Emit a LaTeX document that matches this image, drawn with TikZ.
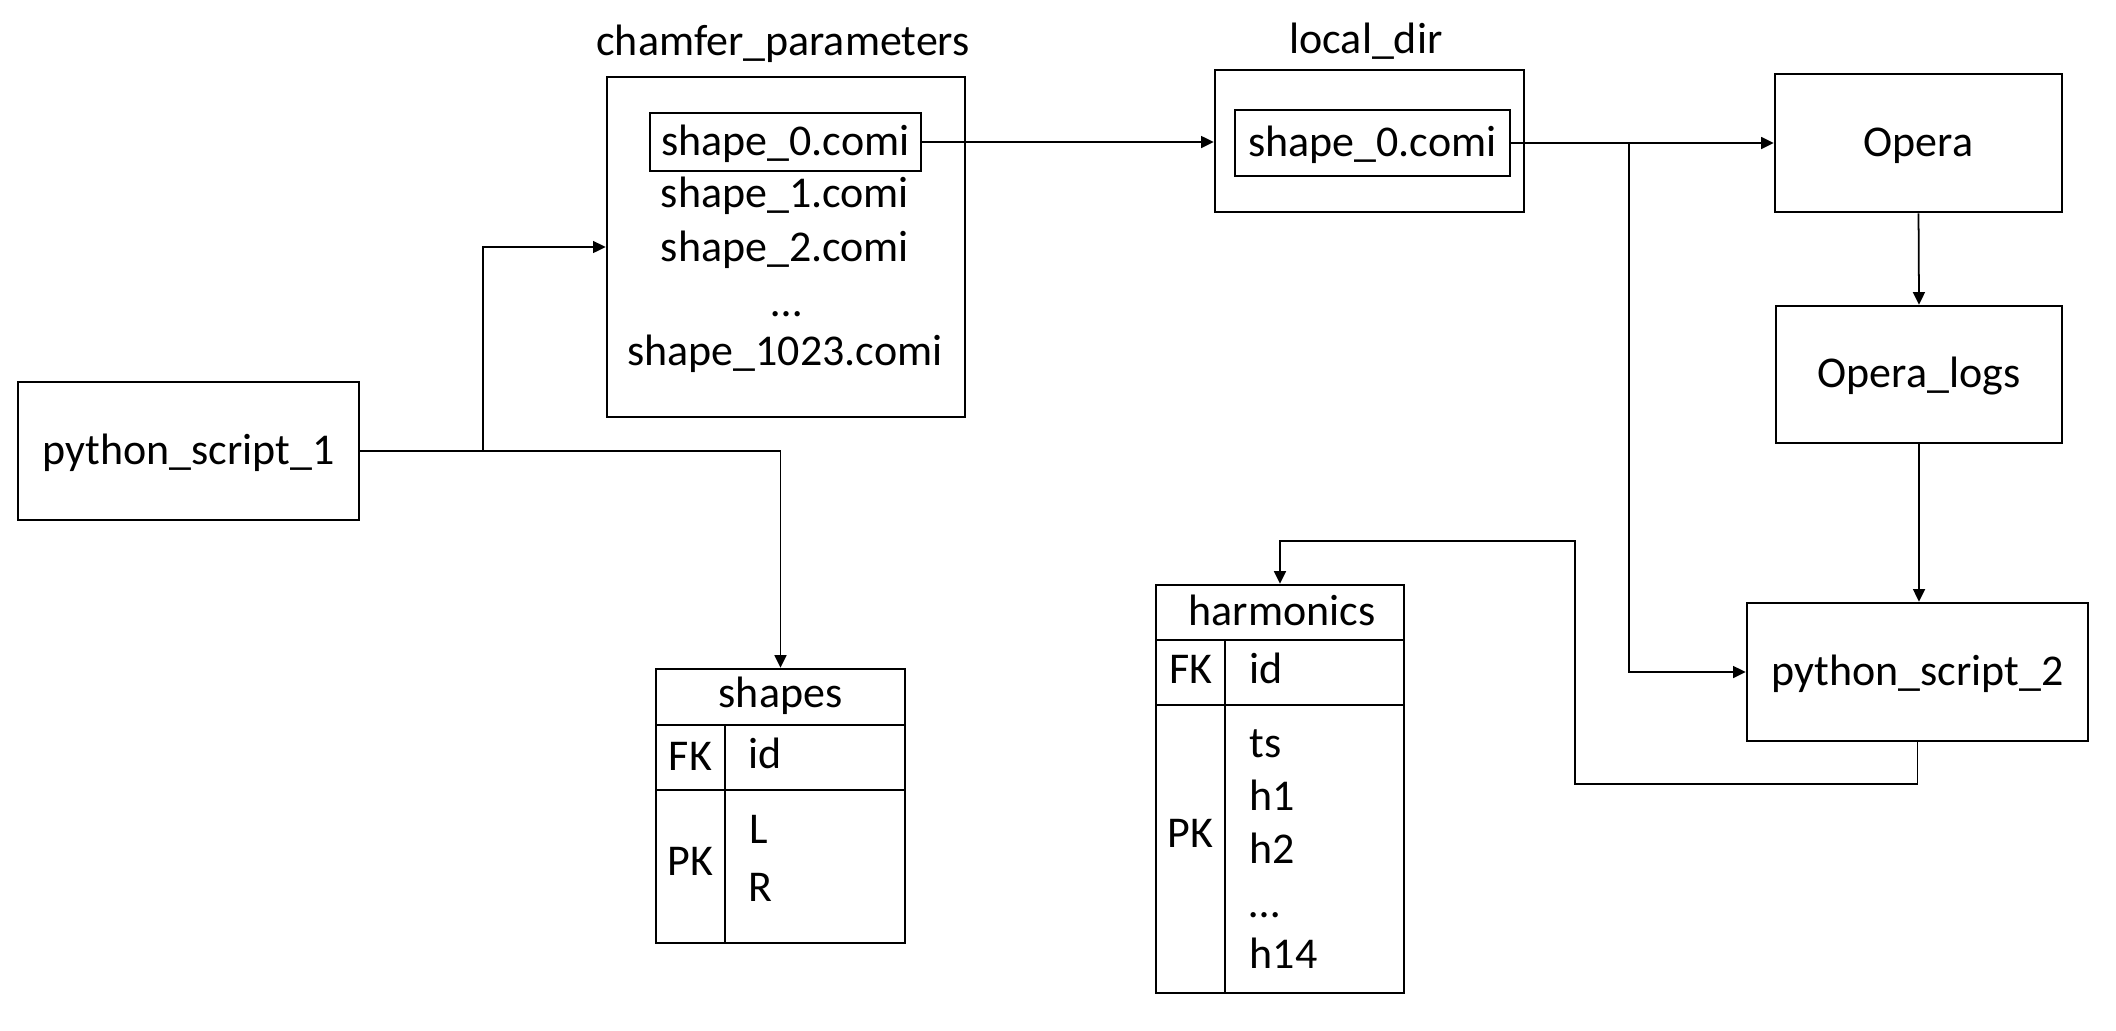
\documentclass[tikz,border=0pt]{standalone}
\usepackage{fontspec}
\setmainfont{Carlito}
\usetikzlibrary{arrows.meta}
\tikzset{%
  procbox/.style = {shape=rectangle, draw, line width=0.7pt,%
                    text height=10.5pt, text depth=3pt},%
  cell/.style    = {shape=rectangle, draw, line width=0.7pt},%
  entry/.style   = {anchor=base},%
  field/.style   = {anchor=base west},%
  flow/.style    = {line width=0.5pt, -{Triangle[length=3.6pt,width=3.4pt]}},%
  wire/.style    = {line width=0.5pt}%
}
\begin{document}
\begin{tikzpicture}[x=0.01cm, y=-0.01cm,
	every node/.style = {font=\fontsize{12.5}{15}\selectfont, inner sep=0pt}]
	\useasboundingbox[fill=white] (0,0) rectangle (2116,1030);
	% scripts and programs
	\node [procbox, minimum width=3.41cm, minimum height=1.38cm] (script1) at (188.5,451) {python\_script\_1};
	\node [procbox, minimum width=2.87cm, minimum height=1.38cm] (opera) at (1918.5,143) {Opera};
	\node [procbox, minimum width=2.86cm, minimum height=1.37cm] (logs) at (1919,374.5) {Opera\_logs};
	\node [procbox, minimum width=3.41cm, minimum height=1.38cm] (script2) at (1917.5,672) {python\_script\_2};
	% chamfer_parameters folder
	\node [cell, minimum width=3.58cm, minimum height=3.40cm] (chamfer) at (786,247) {};
	\node [entry] (chamfer_t) at (783,55) {chamfer\_parameters};
	\node [procbox, minimum width=2.71cm, minimum height=0.58cm] (ch0) at (785.5,142) {shape\_0.comi};
	\node [entry] (ch1) at (785,207) {shape\_1.comi};
	\node [entry] (ch2) at (785,261) {shape\_2.comi};
	\node [entry] (chdots) at (787,316) {…};
	\node [entry] (ch1023) at (785,365) {shape\_1023.comi};
	% local_dir folder
	\node [cell, minimum width=3.09cm, minimum height=1.42cm] (local) at (1369.5,141) {};
	\node [entry] (local_t) at (1366,53) {local\_dir};
	\node [procbox, minimum width=2.75cm, minimum height=0.66cm] (lc0) at (1372.5,143) {shape\_0.comi};
	% table shapes
	\node [cell, minimum width=2.49cm, minimum height=0.56cm] (shapes_hd) at (780.5,697) {};
	\node [cell, minimum width=0.69cm, minimum height=0.65cm] (shapes_fk) at (690.5,757.5) {};
	\node [cell, minimum width=1.80cm, minimum height=0.65cm] (shapes_id) at (815,757.5) {};
	\node [cell, minimum width=0.69cm, minimum height=1.53cm] (shapes_pk) at (690.5,866.5) {};
	\node [cell, minimum width=1.80cm, minimum height=1.53cm] (shapes_cols) at (815,866.5) {};
	\node [entry] (shapes_t) at (780.5,707) {shapes};
	\node [entry] (shapes_fkt) at (690.5,770) {FK};
	\node [entry] (shapes_pkt) at (690.5,875) {PK};
	\node [field] (shapes_idt) at (748,768) {id};
	\node [field] (shapes_l) at (749,843) {L};
	\node [field] (shapes_r) at (748,901) {R};
	% table harmonics
	\node [cell, minimum width=2.48cm, minimum height=0.55cm] (harm_hd) at (1280,612.5) {};
	\node [cell, minimum width=0.69cm, minimum height=0.65cm] (harm_fk) at (1190.5,672.5) {};
	\node [cell, minimum width=1.79cm, minimum height=0.65cm] (harm_id) at (1314.5,672.5) {};
	\node [cell, minimum width=0.69cm, minimum height=2.88cm] (harm_pk) at (1190.5,849) {};
	\node [cell, minimum width=1.79cm, minimum height=2.88cm] (harm_cols) at (1314.5,849) {};
	\node [entry] (harm_t) at (1282,625) {harmonics};
	\node [entry] (harm_fkt) at (1190.5,683) {FK};
	\node [entry] (harm_pkt) at (1190.5,847) {PK};
	\node [field] (harm_idt) at (1249,683) {id};
	\node [field] (harm_ts) at (1249,757) {ts};
	\node [field] (harm_h1) at (1249,810) {h1};
	\node [field] (harm_h2) at (1249,863) {h2};
	\node [field] (harm_dots) at (1249,917) {…};
	\node [field] (harm_h14) at (1249,968) {h14};
	% connectors
	\coordinate (split1) at (483,451);
	\coordinate (split2) at (1629,143);
	\coordinate (back1) at (1575,784);
	\coordinate (back2) at (1575,541);
	\draw [wire] (script1.east) -- (split1);
	\draw [flow] (split1) |- (chamfer.west);
	\draw [flow] (split1) -| (shapes_hd.north);
	\draw [flow] (ch0.east) -- (ch0.east -| local.west);
	\draw [flow] (lc0.east) -- (opera.west);
	\draw [flow] (split2) |- (script2.west);
	\draw [flow] (opera.south) -- (logs.north);
	\draw [flow] (logs.south) -- (logs.south |- script2.north);
	\draw [flow] (script2.south) |- (back1) -- (back2) -| (harm_hd.north);
\end{tikzpicture}
\end{document}
